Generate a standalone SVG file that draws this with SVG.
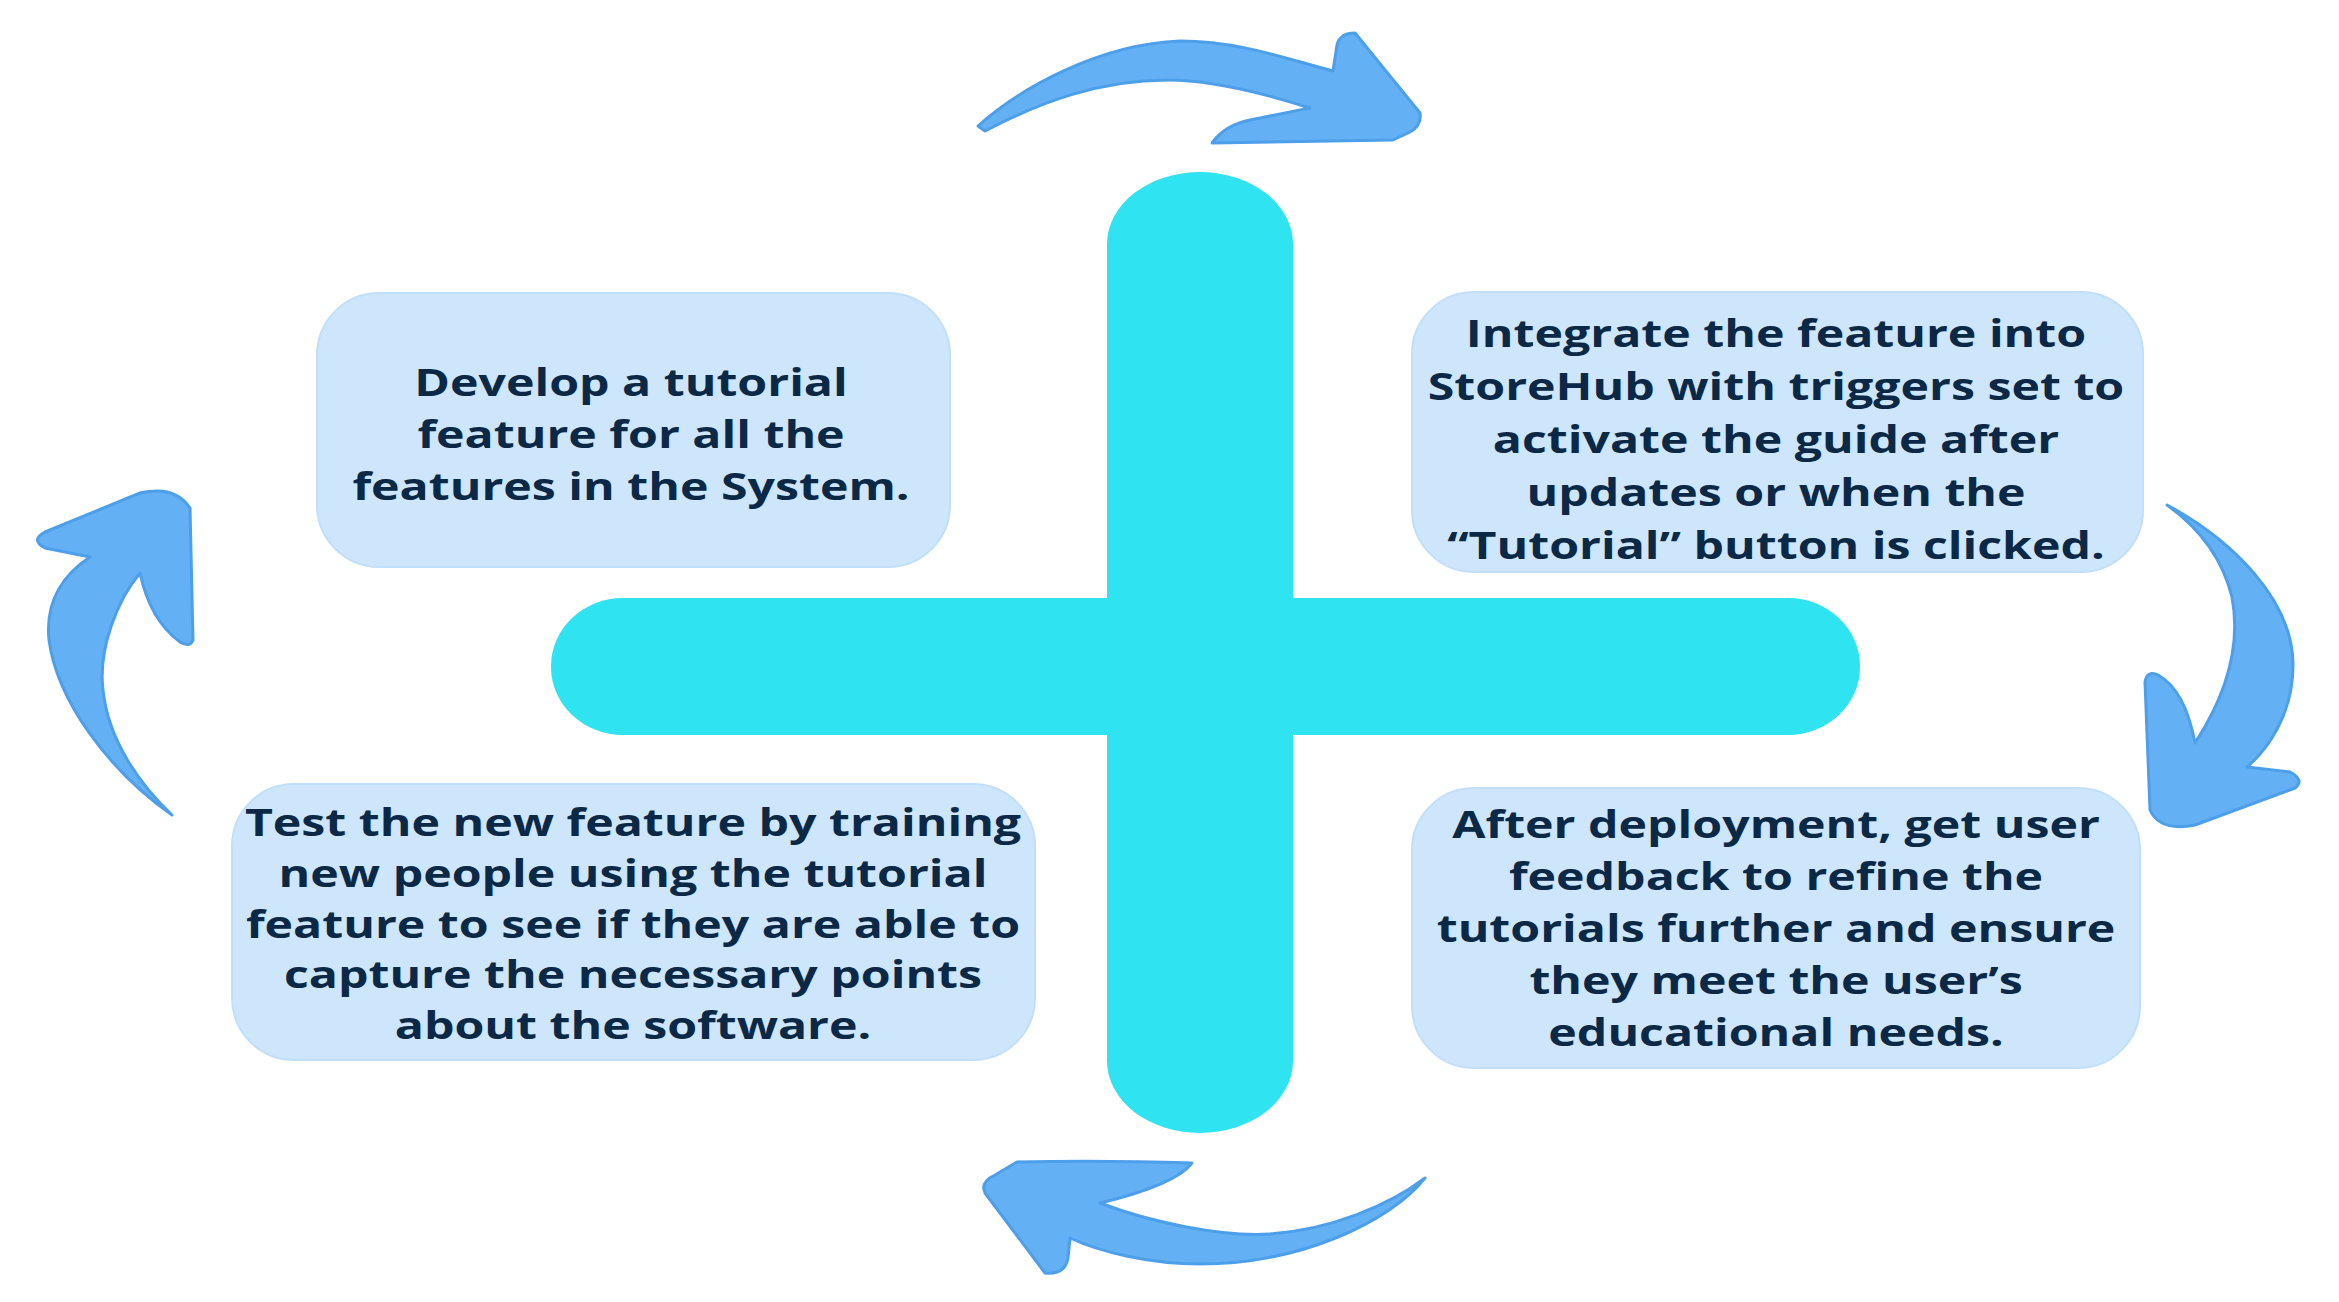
<svg xmlns="http://www.w3.org/2000/svg" width="2339" height="1302" viewBox="0 0 2339 1302">
<style>
.bar{fill:#2fe3f1}
.box{fill:#cde6fb;stroke:#c2dff9;stroke-width:2}
.txt{font-family:"Open Sans","Liberation Sans",sans-serif;font-weight:700;font-size:38px;fill:#0b2946;text-anchor:middle}
.arrow{fill:#63b1f4;stroke:#4d9fea;stroke-width:3;stroke-linejoin:round}
</style>
<rect width="2339" height="1302" fill="#ffffff"/>
<g id="cross">
<rect class="bar" x="1107" y="172" width="186" height="961" rx="93" ry="72"/>
<rect class="bar" x="551" y="598" width="1309" height="137" rx="72" ry="68"/>
</g>
<g id="step-develop">
<rect class="box" x="317" y="293" width="633" height="274" rx="62"/>
<g transform="translate(631,0) scale(1.27,1)">
<text class="txt" x="0" y="396">Develop a tutorial</text>
<text class="txt" x="0" y="448">feature for all the</text>
<text class="txt" x="0" y="500">features in the System.</text>
</g>
</g>
<g id="step-integrate">
<rect class="box" x="1412" y="292" width="731" height="280" rx="62"/>
<g transform="translate(1776,0) scale(1.27,1)">
<text class="txt" x="0" y="347">Integrate the feature into</text>
<text class="txt" x="0" y="400">StoreHub with triggers set to</text>
<text class="txt" x="0" y="453">activate the guide after</text>
<text class="txt" x="0" y="506">updates or when the</text>
<text class="txt" x="0" y="559">“Tutorial” button is clicked.</text>
</g>
</g>
<g id="step-feedback">
<rect class="box" x="1412" y="788" width="728" height="280" rx="62"/>
<g transform="translate(1776,0) scale(1.27,1)">
<text class="txt" x="0" y="838">After deployment, get user</text>
<text class="txt" x="0" y="890">feedback to refine the</text>
<text class="txt" x="0" y="942">tutorials further and ensure</text>
<text class="txt" x="0" y="994">they meet the user’s</text>
<text class="txt" x="0" y="1046">educational needs.</text>
</g>
</g>
<g id="step-test">
<rect class="box" x="232" y="784" width="803" height="276" rx="62"/>
<g transform="translate(633,0) scale(1.27,1)">
<text class="txt" x="0" y="836">Test the new feature by training</text>
<text class="txt" x="0" y="887">new people using the tutorial</text>
<text class="txt" x="0" y="938">feature to see if they are able to</text>
<text class="txt" x="0" y="988">capture the necessary points</text>
<text class="txt" x="0" y="1039">about the software.</text>
</g>
</g>
<g id="connectors">
<path class="arrow" d="M978,126 C1020,88 1100,44 1180,41 C1240,41 1290,60 1333,71 L1337,45 Q1340,33 1355,33 L1420,113 Q1422,125 1410,132 L1393,140 L1212,143 Q1225,125 1250,120 L1310,108 C1260,92 1210,80 1167,80 C1100,80 1040,102 985,131 Z"/>
<path class="arrow" d="M2167,505 C2232,540 2293,600 2293,665 C2293,715 2267,750 2247,767 L2290,772 Q2305,780 2295,788 L2195,825 Q2160,832 2150,810 L2145,682 Q2147,670 2158,675 Q2185,690 2195,743 C2223,700 2242,650 2232,597 C2222,557 2198,527 2167,505 Z"/>
<path class="arrow" d="M1425,1178 C1390,1222 1300,1264 1200,1264 C1150,1264 1100,1252 1070,1238 L1068,1258 Q1065,1275 1045,1273 L985,1193 Q980,1182 995,1175 L1017,1162 Q1100,1160 1192,1163 Q1175,1185 1100,1203 C1150,1222 1220,1237 1270,1234 C1330,1230 1390,1205 1425,1178 Z"/>
<path class="arrow" d="M172,815 C108,770 57,700 49,640 C45,600 63,575 90,557 L45,548 Q30,540 45,532 L140,493 Q175,485 190,508 L193,640 Q190,648 180,642 Q150,620 140,573 C117,600 98,650 103,690 C108,740 140,785 172,815 Z"/>
</g>
</svg>
